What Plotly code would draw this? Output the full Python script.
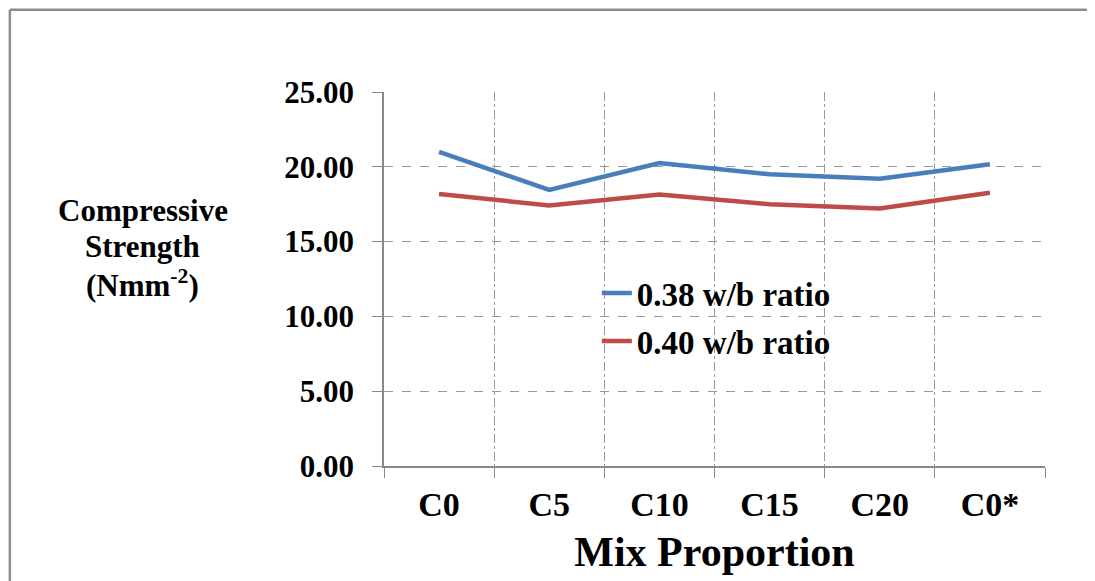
import plotly.graph_objects as go

# datos
mezclas = ["C0", "C5", "C10", "C15", "C20", "C0*"]
resistencia_038 = [21.0, 18.45, 20.25, 19.5, 19.2, 20.17]
resistencia_040 = [18.18, 17.42, 18.15, 17.5, 17.22, 18.27]
nombres = ["0.38 w/b ratio", "0.40 w/b ratio"]
colores = ["#4a7ebb", "#be4b48"]
titulo_y = ["Compressive", "Strength", "(Nmm<sup>-2</sup>)"]

fuente = "Liberation Serif"

fig = go.Figure()
for i, serie in enumerate([resistencia_038, resistencia_040]):
    fig.add_trace(go.Scatter(
        x=mezclas, y=serie, mode="lines", name=nombres[i],
        legendgroup=str(i),
        line=dict(color=colores[i], width=4.5),
    ))

# la pagina tiene 8px de margen: figura un poco mas chica
fig.update_layout(
    width=1087, height=573,
    margin=dict(l=376, r=50, t=84, b=115),
    paper_bgcolor="white", plot_bgcolor="white",
    font=dict(family=fuente, color="black"),
    showlegend=True,
    legend=dict(
        x=0.322, y=0.537, xanchor="left", yanchor="top",
        bgcolor="rgba(0,0,0,0)",
        font=dict(family=fuente, size=33, color="black", weight="bold"),
        traceorder="grouped", tracegroupgap=2,
    ),
)

fig.update_xaxes(
    type="category", range=[-0.5, 5.5],
    tickson="boundaries", ticks="outside", ticklen=10, tickcolor="#888888",
    showline=True, linecolor="#888888", linewidth=1.5,
    showgrid=True, gridcolor="#999999", griddash="dashdot", gridwidth=1,
    tickfont=dict(family=fuente, size=34, weight="bold"),
    ticklabelstandoff=7,
    title=dict(text="Mix Proportion", font=dict(family=fuente, size=42, weight="bold"), standoff=15),
)

fig.update_yaxes(
    range=[0, 25], dtick=5, tickformat=".2f",
    ticks="outside", ticklen=10, tickcolor="#888888",
    showline=True, linecolor="#888888", linewidth=1.5,
    showgrid=True, gridcolor="#999999", griddash="dash", gridwidth=1,
    zeroline=False,
    tickfont=dict(family=fuente, size=31, weight="bold"),
    ticklabelstandoff=12,
)

# titulo del eje y sin rotar, una linea por renglon
for texto, yy in zip(titulo_y, [0.684, 0.588, 0.489]):
    fig.add_annotation(
        text=texto, xref="paper", yref="paper", x=-0.3646, y=yy,
        xanchor="center", yanchor="middle", showarrow=False,
        font=dict(family=fuente, size=31, weight="bold"),
    )

# marco exterior (solo arriba e izquierda se ven)
fig.add_shape(type="line", xref="paper", yref="paper",
              x0=-0.566, x1=1.2, y0=1.22, y1=1.22,
              line=dict(color="#8c8c8c", width=2.5))
fig.add_shape(type="line", xref="paper", yref="paper",
              x0=-0.566, x1=-0.566, y0=-0.5, y1=1.22,
              line=dict(color="#8c8c8c", width=2.5))

fig.write_html("out.html")
